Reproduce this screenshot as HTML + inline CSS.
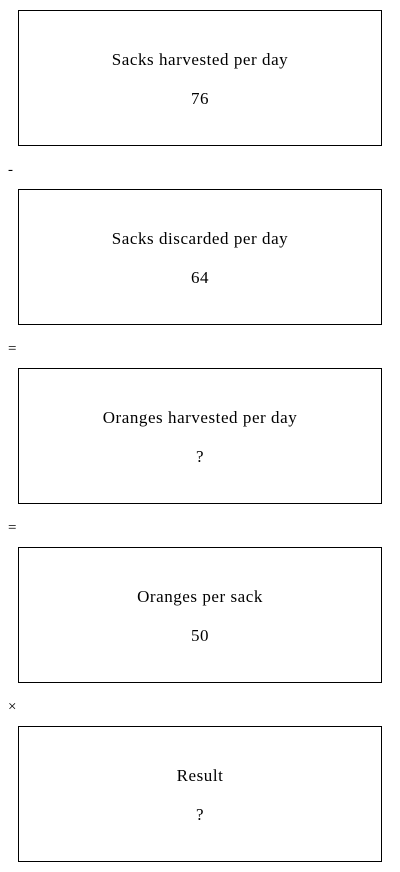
<!DOCTYPE html>
<html><head><meta charset="utf-8"><style>
body{margin:0;width:400px;height:872px;background:#fff;font-family:"Liberation Serif",serif;color:#000;position:relative;overflow:hidden}
.box{position:absolute;left:18px;width:362px;height:134px;border:1px solid #000;text-align:center;font-size:17px;letter-spacing:0.55px}
.t{position:absolute;left:0;right:0;top:39px}
.v{position:absolute;left:0;right:0;top:78px}
.op{position:absolute;left:8px;font-size:15px}
</style></head><body>
<div class="box" style="top:10px"><div class="t">Sacks harvested per day</div><div class="v">76</div></div>
<div class="op" style="top:162px">-</div>
<div class="box" style="top:189px"><div class="t">Sacks discarded per day</div><div class="v">64</div></div>
<div class="op" style="top:341px">=</div>
<div class="box" style="top:368px"><div class="t">Oranges harvested per day</div><div class="v">?</div></div>
<div class="op" style="top:520px">=</div>
<div class="box" style="top:547px"><div class="t">Oranges per sack</div><div class="v">50</div></div>
<div class="op" style="top:699px">×</div>
<div class="box" style="top:726px"><div class="t">Result</div><div class="v">?</div></div>
</body></html>
